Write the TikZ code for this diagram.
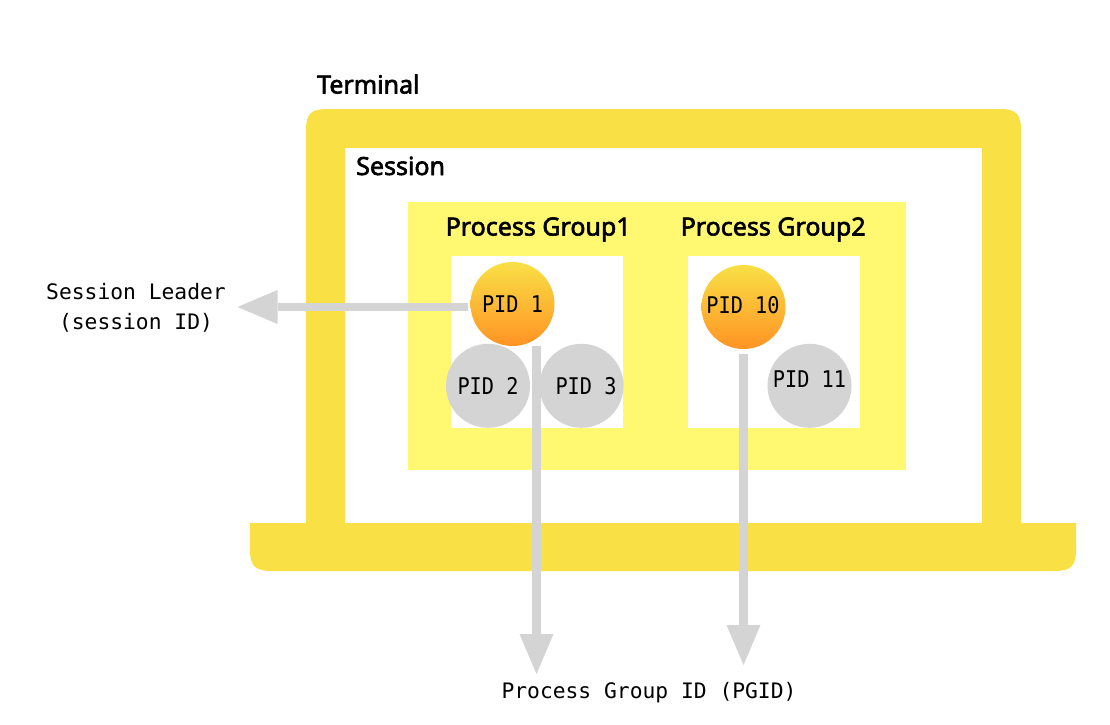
\documentclass[tikz,border=0pt]{standalone}
\usepackage{fontspec}
\setmainfont{Noto Sans}
\newfontfamily\headfont{Noto Sans}[FakeBold=2.4]
\newfontfamily\pidfont{DejaVu Sans Mono}[FakeStretch=0.88]
\newfontfamily\labelfont{DejaVu Sans Mono}
\usetikzlibrary{arrows.meta,calc}
\definecolor{laptop}{HTML}{F9E045}
\definecolor{groupy}{HTML}{FFF870}
\definecolor{arrowgray}{HTML}{D4D4D4}
\definecolor{leadbottom}{HTML}{FF9324}
\tikzset{
  x=1pt,y=-1pt,
  head/.style={font=\headfont\fontsize{25}{25}\selectfont,text=black,inner sep=0pt},
  mono/.style={font=\pidfont\fontsize{23}{27}\selectfont,text=black,inner sep=0pt,align=center},
  monolabel/.style={font=\labelfont\fontsize{21.3}{30}\selectfont,text=black,inner sep=0pt,align=center},
  pidgray/.style={circle,fill=arrowgray,minimum size=84pt,inner sep=0pt},
  pidlead/.style={circle,top color=laptop,bottom color=leadbottom,minimum size=84pt,inner sep=0pt},
  bigarrow/.style={draw=arrowgray,line width=8.6pt,-{Triangle[length=40pt,width=34pt,line width=0pt,fill=arrowgray]}},
}
\begin{document}
\begin{tikzpicture}
\useasboundingbox (0,0) rectangle (1110,724);
\fill[white] (0,0) rectangle (1110,724);
% laptop body
\fill[laptop] (306,540) -- (306,130) .. controls (306,114) and (311,109) .. (327,109)
  -- (1000,109) .. controls (1016,109) and (1021,114) .. (1021,130) -- (1021,540) -- cycle;
\fill[white] (345,148) rectangle (982,523);
% laptop base
\fill[laptop] (250,523) -- (1076,523) -- (1076,550)
  .. controls (1076,566) and (1071,571) .. (1054,571) -- (272,571)
  .. controls (255,571) and (250,566) .. (250,550) -- cycle;
% process groups
\fill[groupy] (408,202) rectangle (906,470);
\fill[white] (451,256) rectangle (623,428);
\fill[white] (688,256) rectangle (860,428);
% titles
\node[head,anchor=base west] (terminal) at (317,93.5) {Terminal};
\node[head,anchor=base west] (session) at (356,175) {Session};
\node[head,anchor=base west] (pg1) at (445.5,235.5) {Process Group1};
\node[head,anchor=base west] (pg2) at (680.5,235.5) {Process Group2};
% processes
\node[pidlead] (pid1) at (512.5,304) {};
\node[pidgray] (pid2) at (488,385.8) {};
\node[pidgray] (pid3) at (581.5,385.8) {};
\node[pidlead] (pid10) at (743.5,307) {};
\node[pidgray] (pid11) at (809.5,385.8) {};
\node[mono] at (pid1) {PID 1};
\node[mono] at (pid2) {PID 2};
\node[mono] at ($(pid3)+(4.5,0)$) {PID 3};
\node[mono] at ($(pid10)+(-0.5,-2)$) {PID 10};
\node[mono] at ($(pid11)+(0,-7)$) {PID 11};
% labels
\node[monolabel] (leader) at (136,308) {Session Leader\\(session ID)};
\node[monolabel] (pgid) at (649,692.5) {Process Group ID (PGID)};
% connector ends
\coordinate (a1s) at (468,307);
\coordinate (a1e) at (237.5,307);
\coordinate (a2s) at (536.5,346);
\coordinate (a2e) at (536.5,674);
\coordinate (a3s) at (743.5,354);
\coordinate (a3e) at (743.5,665);
\draw[bigarrow] (a1s) -- (a1e);
\draw[bigarrow] (a2s) -- (a2e);
\draw[bigarrow] (a3s) -- (a3e);
\end{tikzpicture}
\end{document}
